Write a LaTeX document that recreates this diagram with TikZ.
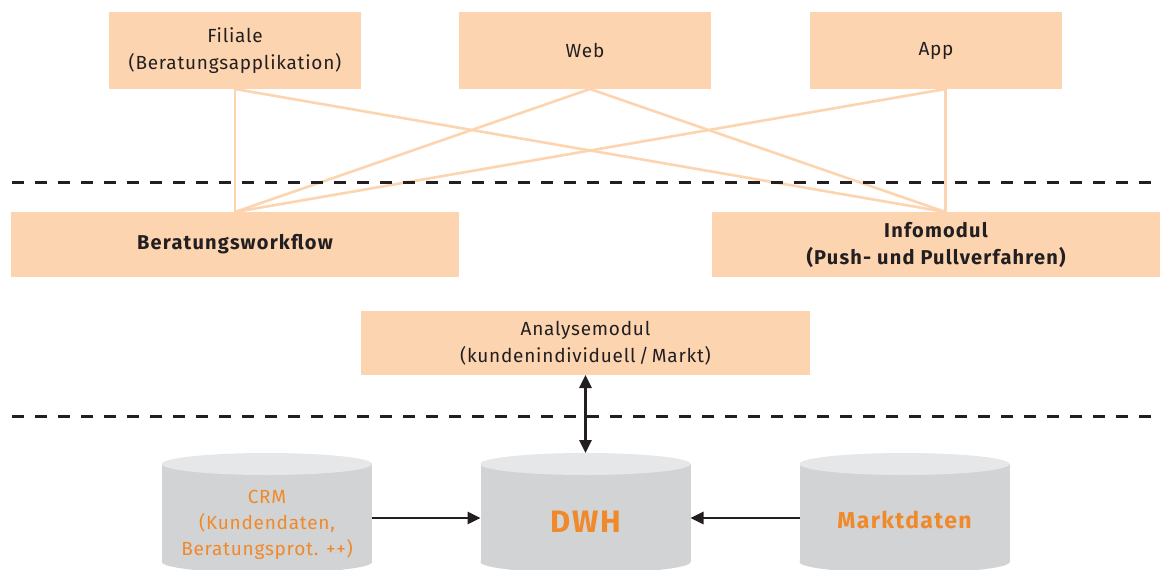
\documentclass[tikz,border=0pt]{standalone}
\usepackage{fontspec}
\setmainfont[LetterSpace=4, BoldFeatures={LetterSpace=6}]{Fira Sans}
\usetikzlibrary{positioning, arrows.meta, backgrounds}
\definecolor{peach}{HTML}{FCD5B0}
\definecolor{darktext}{HTML}{231F20}
\definecolor{dborange}{HTML}{F0892A}
\definecolor{dbgrey}{HTML}{D1D3D4}
\definecolor{dbtopgrey}{HTML}{E6E7E8}

\begin{document}
\begin{tikzpicture}[x=1pt, y=-1pt, font=\fontsize{19}{27}\selectfont, text=darktext,
	channel box/.style={rectangle, fill=peach, minimum width=252pt, minimum height=77pt, align=center, inner sep=0pt, outer sep=0pt},
	module box/.style={rectangle, fill=peach, minimum width=448pt, minimum height=65pt, align=center, inner sep=0pt, outer sep=0pt},
	data store/.style={rectangle, minimum width=210pt, minimum height=108pt, align=center, inner sep=0pt, outer sep=0pt, text=dborange},
	fan line/.style={draw=peach, line width=2.6pt},
	layer line/.style={draw=darktext, line width=3pt, dash pattern=on 12pt off 11pt},
	flow arrow/.style={draw=darktext, line width=2.8pt, -{Triangle[length=13pt,width=12pt]}}]
	\useasboundingbox (0,0) rectangle (1167,570);
	\clip (0,0) rectangle (1167,570);

	% channels
	\node [channel box] (filiale) at (235,50.5) {Filiale\\(Beratungsapplikation)};
	\node [channel box, right=98pt of filiale] (web) {Web};
	\node [channel box, right=99pt of web] (app) {App};

	% modules
	\node [module box, font=\fontsize{20}{27}\selectfont\bfseries] (workflow) at (235,244.5) {Beratungsworkflow};
	\node [module box, font=\fontsize{20}{27}\selectfont\bfseries] (info) at (936,244.5) {Infomodul\\(Push- und Pullverfahren)};
	\node [module box, minimum width=449pt, minimum height=64pt] (analyse) at (585.5,343) {Analysemodul\\(kundenindividuell\,/\,Markt)};

	% data stores
	\node [data store, font=\fontsize{19}{26}\selectfont] (crm) at (267,518) {\rule{0pt}{27pt}CRM\\(Kundendaten,\\Beratungsprot. ++)};
	\node [data store, font=\fontsize{31}{36}\selectfont\bfseries] (dwh) at (585.5,518) {\rule{0pt}{28pt}DWH};
	\node [data store, font=\fontsize{23}{30}\selectfont\bfseries] (markt) at (904.5,518) {\rule{0pt}{22pt}Marktdaten};

	\begin{scope}[on background layer]
		\foreach \db in {crm, dwh, markt} {
			\fill [dbgrey] (\db.north west) rectangle ([yshift=10pt]\db.south east);
			\fill [dbgrey] ([yshift=10pt]\db.south) ellipse (105 and 11);
			\fill [dbtopgrey] (\db.north) ellipse (105 and 11);
		}
	\end{scope}

	% channel -> module fan
	\coordinate (webout) at ([xshift=5pt]web.south);
	\coordinate (appout) at ([xshift=9.5pt]app.south);
	\coordinate (infoin) at ([xshift=9.5pt]info.north);
	\foreach \src in {filiale.south, webout, appout} {
		\draw [fan line] (\src) -- (workflow.north);
		\draw [fan line] (\src) -- (infoin);
	}

	% layers
	\draw [layer line] (12,182) -- (1160,182);
	\draw [layer line] (12,416) -- (1160,416);

	\draw [flow arrow, {Triangle[length=13pt,width=12pt]}-{Triangle[length=13pt,width=12pt]}] (analyse) -- ([yshift=11pt]dwh.north);
	\draw [flow arrow] (crm) -- (dwh);
	\draw [flow arrow] (markt) -- (dwh);
\end{tikzpicture}
\end{document}
